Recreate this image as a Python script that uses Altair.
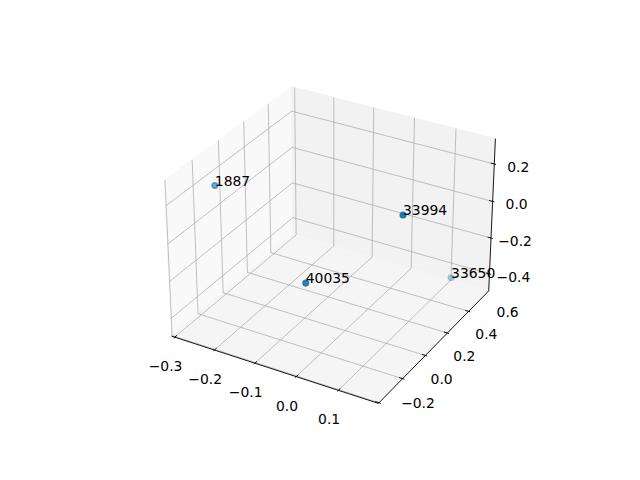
import altair as alt
import numpy as np
import pandas as pd

# ---------------- data ----------------
labels = ["1887", "40035", "33994", "33650"]
xs = [-0.2855, 0.0110, 0.1660, 0.1100]
ys = [0.0936, -0.1595, 0.0788, 0.7548]
zs = [0.1635, -0.0188, 0.2955, -0.4534]

x_ticks = [-0.3, -0.2, -0.1, 0.0, 0.1]
y_ticks = [-0.2, 0.0, 0.2, 0.4, 0.6]
z_ticks = [-0.4, -0.2, 0.0, 0.2]

x_lim = (-0.3083, 0.1932)
y_lim = (-0.205, 0.795)
z_lim = (-0.4956, 0.3332)

# ---------------- 3D view (matplotlib-like, elev=30, azim=-60, persp) ----------------
ELEV, AZIM, DIST = 30.0, -60.0, 10.0
aspect = np.array([4.0, 4.0, 3.0])
aspect = aspect * 1.8294640721620434 / np.linalg.norm(aspect)
CX, CY, K = 332.9, 237.7, 2075.0

el, az = np.deg2rad(ELEV), np.deg2rad(AZIM)
w = np.array([np.cos(el) * np.cos(az), np.cos(el) * np.sin(az), np.sin(el)])
u = np.cross([0.0, 0.0, 1.0], w)
u /= np.linalg.norm(u)
v = np.cross(w, u)


def norm3(x, y, z):
    return np.array([
        (x - x_lim[0]) / (x_lim[1] - x_lim[0]) - 0.5,
        (y - y_lim[0]) / (y_lim[1] - y_lim[0]) - 0.5,
        (z - z_lim[0]) / (z_lim[1] - z_lim[0]) - 0.5,
    ]) * aspect


def project(x, y, z):
    p = norm3(x, y, z)
    d = DIST - p @ w
    return CX + K * (p @ u) / d, CY - K * (p @ v) / d, -DIST / d


x0, x1 = x_lim
y0, y1 = y_lim
z0, z1 = z_lim

# panes
pane_defs = [
    ("x", "#f9f9f9", [(x0, y0, z0), (x0, y1, z0), (x0, y1, z1), (x0, y0, z1)]),
    ("y", "#f2f2f2", [(x0, y1, z0), (x1, y1, z0), (x1, y1, z1), (x0, y1, z1)]),
    ("z", "#f5f5f5", [(x0, y0, z0), (x1, y0, z0), (x1, y1, z0), (x0, y1, z0)]),
]
rows = []
for name, col, pts in pane_defs:
    for i, pt in enumerate(pts + [pts[0]]):
        px, py, _ = project(*pt)
        rows.append({"pane": name, "col": col, "o": i, "px": px, "py": py})
panes = pd.DataFrame(rows)

# gridlines
rows = []
for t in x_ticks:
    for i, pt in enumerate([(t, y0, z0), (t, y1, z0), (t, y1, z1)]):
        px, py, _ = project(*pt)
        rows.append({"g": f"x{t}", "o": i, "px": px, "py": py})
for t in y_ticks:
    for i, pt in enumerate([(x1, t, z0), (x0, t, z0), (x0, t, z1)]):
        px, py, _ = project(*pt)
        rows.append({"g": f"y{t}", "o": i, "px": px, "py": py})
for t in z_ticks:
    for i, pt in enumerate([(x1, y1, t), (x0, y1, t), (x0, y0, t)]):
        px, py, _ = project(*pt)
        rows.append({"g": f"z{t}", "o": i, "px": px, "py": py})
grid = pd.DataFrame(rows)

# axis lines
rows = []
for name, (a, b) in {"x": ((x0, y0, z0), (x1, y0, z0)),
                     "y": ((x1, y0, z0), (x1, y1, z0)),
                     "z": ((x1, y1, z0), (x1, y1, z1))}.items():
    for i, pt in enumerate([a, b]):
        px, py, _ = project(*pt)
        rows.append({"ax": name, "o": i, "px": px, "py": py})
axlines = pd.DataFrame(rows)

# tick marks and labels
dx_ = (x1 - x0) / 12.0
dy_ = (y1 - y0) / 12.0
rows = []
labrows = []


def fmt(t):
    s = f"{t:.1f}"
    if s == "-0.0":
        s = "0.0"
    return s.replace("-", "\u2212")


for t in x_ticks:
    ax_, ay_, _ = project(t, y0 - 0.1 * dy_, z0)
    bx_, by_, _ = project(t, y0 + 0.2 * dy_, z0)
    rows.append({"px": ax_, "py": ay_, "px2": bx_, "py2": by_})
    lx, ly, _ = project(t, y0, z0)
    labrows.append({"axis": "x", "px": lx, "py": ly, "txt": fmt(t)})
for t in y_ticks:
    ax_, ay_, _ = project(x1 + 0.1 * dx_, t, z0)
    bx_, by_, _ = project(x1 - 0.2 * dx_, t, z0)
    rows.append({"px": ax_, "py": ay_, "px2": bx_, "py2": by_})
    lx, ly, _ = project(x1, t, z0)
    labrows.append({"axis": "y", "px": lx, "py": ly, "txt": fmt(t)})
for t in z_ticks:
    ax_, ay_, _ = project(x1 + 0.1 * dx_, y1, t)
    bx_, by_, _ = project(x1 - 0.2 * dx_, y1, t)
    rows.append({"px": ax_, "py": ay_, "px2": bx_, "py2": by_})
    lx, ly, _ = project(x1, y1, t)
    labrows.append({"axis": "z", "px": lx, "py": ly, "txt": fmt(t)})
ticks = pd.DataFrame(rows)
ticklabels = pd.DataFrame(labrows)

# scatter points with depth shading
prow = []
for lab, x, y, z in zip(labels, xs, ys, zs):
    px, py, vz = project(x, y, z)
    prow.append({"label": lab, "px": px, "py": py, "vz": vz})
pts = pd.DataFrame(prow)
vmin, vmax = pts["vz"].min(), pts["vz"].max()
pts["alpha"] = 1 - 0.7 * (pts["vz"] - vmin) / (vmax - vmin)

# ---------------- chart ----------------
SX = alt.Scale(domain=[8, 632], nice=False, zero=False)
SY = alt.Scale(domain=[8, 472], nice=False, zero=False, reverse=True)
X = alt.X("px:Q", scale=SX, axis=None)
Y = alt.Y("py:Q", scale=SY, axis=None)
FONT = "DejaVu Sans"

pane_layer = alt.Chart(panes).mark_line(filled=True, strokeWidth=1, interpolate="linear").encode(
    x=X, y=Y, order="o:Q", detail="pane:N",
    fill=alt.Fill("col:N", scale=None), stroke=alt.Stroke("col:N", scale=None))

grid_layer = alt.Chart(grid).mark_line(color="#b0b0b0", strokeWidth=0.8).encode(
    x=X, y=Y, order="o:Q", detail="g:N")

axis_layer = alt.Chart(axlines).mark_line(color="black", strokeWidth=0.9).encode(
    x=X, y=Y, order="o:Q", detail="ax:N")

tick_layer = alt.Chart(ticks).mark_rule(color="black", strokeWidth=0.9).encode(
    x=X, y=Y, x2="px2:Q", y2="py2:Q")

offs = {"x": (-9.2, 34.0), "y": (39.0, 5.7), "z": (24.0, 7.6)}
label_layers = []
for axn, (ddx, ddy) in offs.items():
    label_layers.append(
        alt.Chart(ticklabels[ticklabels["axis"] == axn]).mark_text(
            align="center", baseline="alphabetic", dx=ddx, dy=ddy,
            font=FONT, fontSize=13.9, color="black").encode(x=X, y=Y, text="txt:N"))

point_layer = alt.Chart(pts).mark_point(
    filled=True, shape="circle", size=32, strokeWidth=1.4, opacity=1).encode(
    x=X, y=Y,
    fill=alt.value("#1f77b4"), stroke=alt.value("#1f77b4"),
    fillOpacity=alt.FillOpacity("alpha:Q", scale=None),
    strokeOpacity=alt.StrokeOpacity("alpha:Q", scale=None))

text_layer = alt.Chart(pts).mark_text(
    align="left", baseline="alphabetic", font=FONT, fontSize=13.9, color="black").encode(
    x=X, y=Y, text="label:N")

chart = alt.layer(
    pane_layer, grid_layer, axis_layer, tick_layer, *label_layers, point_layer, text_layer
).properties(
    width=624, height=464, padding=0,
    autosize=alt.AutoSizeParams(type="none"),
).configure_view(stroke=None)

chart.save("out.html", embed_options={"renderer": "svg", "actions": False})
